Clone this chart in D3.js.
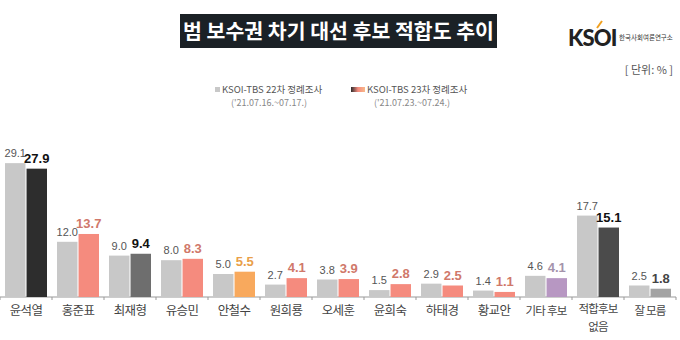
<!DOCTYPE html>
<html><head><meta charset="utf-8">
<script src="https://cdn.jsdelivr.net/npm/d3@7"></script>
<style>body{margin:0;background:#fff;} svg{display:block;font-family:"Noto Sans CJK KR","Noto Sans",sans-serif;}</style>
</head><body>
<svg id="c" width="680" height="340"></svg>
<script>
const categories = ["윤석열","홍준표","최재형","유승민","안철수","원희룡","오세훈","윤희숙","하태경","황교안","기타 후보","적합후보\n없음","잘 모름"];
const round22 = [29.1,12.0,9.0,8.0,5.0,2.7,3.8,1.5,2.9,1.4,4.6,17.7,2.5];
const round23 = [27.9,13.7,9.4,8.3,5.5,4.1,3.9,2.8,2.5,1.1,4.1,15.1,1.8];
const barColors23 = ["#2d2d2d","#f58b7e","#6e6e6e","#f58b7e","#f8a95d","#f58b7e","#f58b7e","#f58b7e","#f58b7e","#f58b7e","#b797c2","#4b4b4b","#a3a3a3"];
const labelColors23 = ["#111","#d0786a","#111","#d0786a","#e9a048","#d0786a","#d0786a","#d0786a","#d0786a","#d0786a","#a493ab","#111","#444"];
const seriesNames = ["KSOI-TBS 22차 정례조사","KSOI-TBS 23차 정례조사"];
const seriesDates = ["('21.07.16.~07.17.)","('21.07.23.~07.24.)"];

const svg = d3.select("#c");
const x = d3.scaleBand().domain(categories).range([0,676]).paddingInner(0).paddingOuter(0);
const x1 = d3.scaleBand().domain([0,1]).range([5,47]).paddingInner(0.05);
const y = d3.scaleLinear().domain([0,30]).range([297,159]);

// title
svg.append("rect").attr("x",180).attr("y",14).attr("width",317).attr("height",34).attr("fill","#1b2126");
svg.append("text").attr("x",338.5).attr("y",38.5).attr("text-anchor","middle").attr("fill","#fff")
  .attr("font-size",20.5).attr("font-weight","bold").text("범 보수권 차기 대선 후보 적합도 추이");

// logo
svg.append("text").attr("x",568).attr("y",46).attr("font-family","Lato, sans-serif").attr("font-weight","900").attr("font-size",22).attr("fill","#222").attr("letter-spacing",-0.8).text("KSOI");
svg.append("path").attr("d","M597,28 L602,21").attr("stroke","#f0a020").attr("stroke-width",2);
svg.append("text").attr("x",619).attr("y",40).attr("font-size",6.5).attr("fill","#333").text("한국사회여론연구소");
svg.append("text").attr("x",673).attr("y",74).attr("text-anchor","end").attr("font-size",11).attr("fill","#555").text("[ 단위: % ]");

// legend
const defs = svg.append("defs");
const g = defs.append("linearGradient").attr("id","lg");
g.append("stop").attr("offset","0%").attr("stop-color","#2d2d2d");
g.append("stop").attr("offset","50%").attr("stop-color","#f58b7e");
g.append("stop").attr("offset","100%").attr("stop-color","#f8b98a");
svg.append("rect").attr("x",215).attr("y",87).attr("width",5).attr("height",5).attr("fill","#c8c8c8");
svg.append("text").attr("x",222).attr("y",93).attr("font-size",9.5).attr("fill","#555").text(seriesNames[0]);
svg.append("text").attr("x",231).attr("y",106).attr("font-size",9).attr("fill","#888").text(seriesDates[0]);
svg.append("rect").attr("x",351).attr("y",87).attr("width",14).attr("height",5).attr("fill","url(#lg)");
svg.append("text").attr("x",367).attr("y",93).attr("font-size",9.5).attr("fill","#555").text(seriesNames[1]);
svg.append("text").attr("x",374).attr("y",106).attr("font-size",9).attr("fill","#888").text(seriesDates[1]);

// axis
const ax = svg.append("g").attr("transform","translate(0,297)");
ax.append("line").attr("x1",0).attr("x2",676).attr("stroke","#999").attr("stroke-width",1);
ax.selectAll("line.t").data(d3.range(categories.length+1)).join("line").attr("class","t")
  .attr("x1",d=>d*x.bandwidth()).attr("x2",d=>d*x.bandwidth()).attr("y1",0).attr("y2",3).attr("stroke","#999");

const cg = svg.selectAll("g.cat").data(categories).join("g").attr("class","cat")
  .attr("transform",d=>`translate(${x(d)},0)`);

cg.append("rect").attr("x",x1(0)).attr("width",x1.bandwidth())
  .attr("y",(d,i)=>y(round22[i])).attr("height",(d,i)=>y(0)-y(round22[i])).attr("fill","#c8c8c8");
cg.append("rect").attr("x",x1(1)).attr("width",x1.bandwidth())
  .attr("y",(d,i)=>y(round23[i])).attr("height",(d,i)=>y(0)-y(round23[i])).attr("fill",(d,i)=>barColors23[i]);

cg.append("text").attr("x",x1(0)+x1.bandwidth()/2).attr("y",(d,i)=>y(round22[i])-6)
  .attr("text-anchor","middle").attr("font-size",11).attr("fill","#555").attr("font-family","Liberation Sans, sans-serif")
  .text((d,i)=>round22[i].toFixed(1));
cg.append("text").attr("x",x1(1)+x1.bandwidth()/2).attr("y",(d,i)=>y(round23[i])-6)
  .attr("text-anchor","middle").attr("font-size",13).attr("font-weight","bold").attr("fill",(d,i)=>labelColors23[i]).attr("font-family","Liberation Sans, sans-serif")
  .text((d,i)=>round23[i].toFixed(1));

cg.each(function(d){
  const lines = d.split("\n");
  const long = d.replace("\n","").length > 3;
  lines.forEach((l,k)=>{
    d3.select(this).append("text").attr("text-anchor","middle")
      .attr("font-size",long?11.5:12.5).attr("fill","#444").attr("letter-spacing",long?-0.8:-0.6)
      .attr("x",x.bandwidth()/2).attr("y",(lines.length>1?313:315)+k*17.5).text(l);
  });
});
</script>
</body></html>
